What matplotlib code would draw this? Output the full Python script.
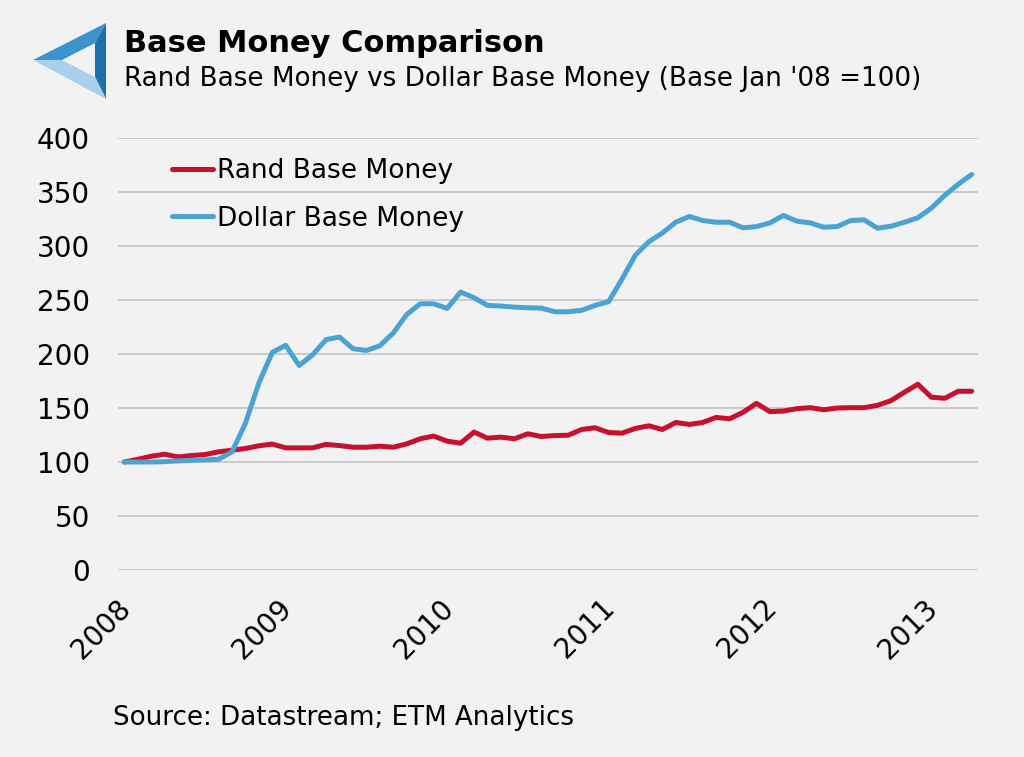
import matplotlib
matplotlib.use("Agg")
import matplotlib.pyplot as plt
import numpy as np
from matplotlib.patches import Polygon
from matplotlib.transforms import offset_copy

# monthly index values, Jan 2008 = 100 (Jan 2008 .. Apr 2013)
rand_base = [
    100.0, 102.5, 105.3, 107.2, 104.7, 106.0, 106.9, 109.4,
    110.9, 112.5, 115.0, 116.6, 113.1, 113.1, 113.1, 116.3,
    115.2, 113.7, 113.7, 114.6, 113.7, 116.8, 121.5, 124.0,
    119.3, 117.4, 127.7, 122.1, 123.0, 121.5, 126.1, 123.6,
    124.5, 124.8, 130.1, 131.7, 127.3, 126.7, 131.1, 133.5,
    130.1, 136.6, 134.8, 136.6, 141.3, 140.0, 146.0, 154.3,
    146.6, 147.2, 149.4, 150.3, 148.4, 150.0, 150.3, 150.3,
    152.5, 156.8, 164.6, 172.0, 160.0, 159.0, 165.5, 165.5,
]
dollar_base = [
    100.0, 100.0, 100.0, 100.3, 101.0, 101.5, 102.0, 102.5,
    109.3, 135.7, 173.0, 201.5, 208.0, 189.4, 199.3, 213.3,
    215.7, 204.9, 203.3, 207.6, 219.5, 236.6, 246.5, 246.5,
    242.2, 257.4, 252.1, 245.0, 244.4, 243.4, 242.8, 242.5,
    239.1, 239.1, 240.4, 245.0, 248.4, 269.3, 291.6, 304.0,
    312.0, 322.0, 327.3, 323.6, 322.0, 322.0, 316.8, 318.0,
    321.4, 328.3, 323.0, 321.4, 317.4, 318.0, 323.6, 324.2,
    316.5, 318.3, 322.0, 326.1, 335.1, 346.9, 357.2, 366.2,
]
year_labels = ["2008", "2009", "2010", "2011", "2012", "2013"]
y_ticks = [0, 50, 100, 150, 200, 250, 300, 350, 400]

BG = "#f2f2f2"
RED = "#c8102e"
BLUE = "#4ba3d3"

fig = plt.figure(figsize=(10.24, 7.57), dpi=100, facecolor=BG)
W, H = 1024, 757


def px(x, y):
    # pixel position (from top-left) -> figure fraction
    return (x / W, 1 - y / H)


ax = fig.add_axes([118 / W, 1 - 570 / H, 860 / W, 432 / H])
ax.set_facecolor(BG)

months = np.arange(len(rand_base))
ax.plot(months, rand_base, color=RED, lw=3.6, solid_capstyle="round",
        solid_joinstyle="round", label="Rand Base Money", zorder=3)
ax.plot(months, dollar_base, color=BLUE, lw=3.6, solid_capstyle="round",
        solid_joinstyle="round", label="Dollar Base Money", zorder=3)

ax.set_xlim(-0.47, len(months) - 1 + 0.47)
ax.set_ylim(0, 400)
ax.set_yticks(y_ticks)
ax.set_xticks(months[::12])
ax.set_xticklabels([])

# year labels, rotated, sitting a bit right of each January
lab_trans = offset_copy(ax.get_xaxis_transform(), fig=fig, x=12, y=-24, units="dots")
for m, lab in zip(months[::12], year_labels):
    ax.text(m, 0, lab, transform=lab_trans, rotation=45, ha="right", va="top",
            fontsize=20, clip_on=False)

ax.tick_params(axis="both", length=0, labelsize=20)
ax.tick_params(axis="y", pad=20)
ax.grid(axis="y", color="#c4c4c4", lw=1.2)
ax.set_axisbelow(True)
for s in ax.spines.values():
    s.set_visible(False)

leg = ax.legend(loc="upper left", bbox_to_anchor=px(172, 158), bbox_transform=fig.transFigure,
                frameon=False, fontsize=19, handlelength=1.55, handletextpad=0.15,
                labelspacing=0.82, borderaxespad=0, borderpad=0)

# header
fig.text(*px(124, 52), "Base Money Comparison", fontsize=22, fontweight="bold", va="baseline")
fig.text(*px(124, 86), "Rand Base Money vs Dollar Base Money (Base Jan '08 =100)",
         fontsize=18.9, va="baseline")
fig.text(*px(113, 725), "Source: Datastream; ETM Analytics", fontsize=18.8, va="baseline")

# logo: stylised impossible triangle
L, T, B = (33, 60), (106, 23), (106, 99)
L2, T2, B2 = (62, 60), (95, 43), (95, 77)
logo = [
    ([L, T, T2, L2], "#3b93cb"),
    ([T, B, B2, T2], "#1f6fab"),
    ([B, L, L2, B2], "#a7d1ec"),
]
for pts, col in logo:
    fig.patches.append(Polygon([px(*p) for p in pts], closed=True, facecolor=col,
                               edgecolor="none", transform=fig.transFigure))

fig.savefig("out.png", dpi=100, facecolor=BG)
